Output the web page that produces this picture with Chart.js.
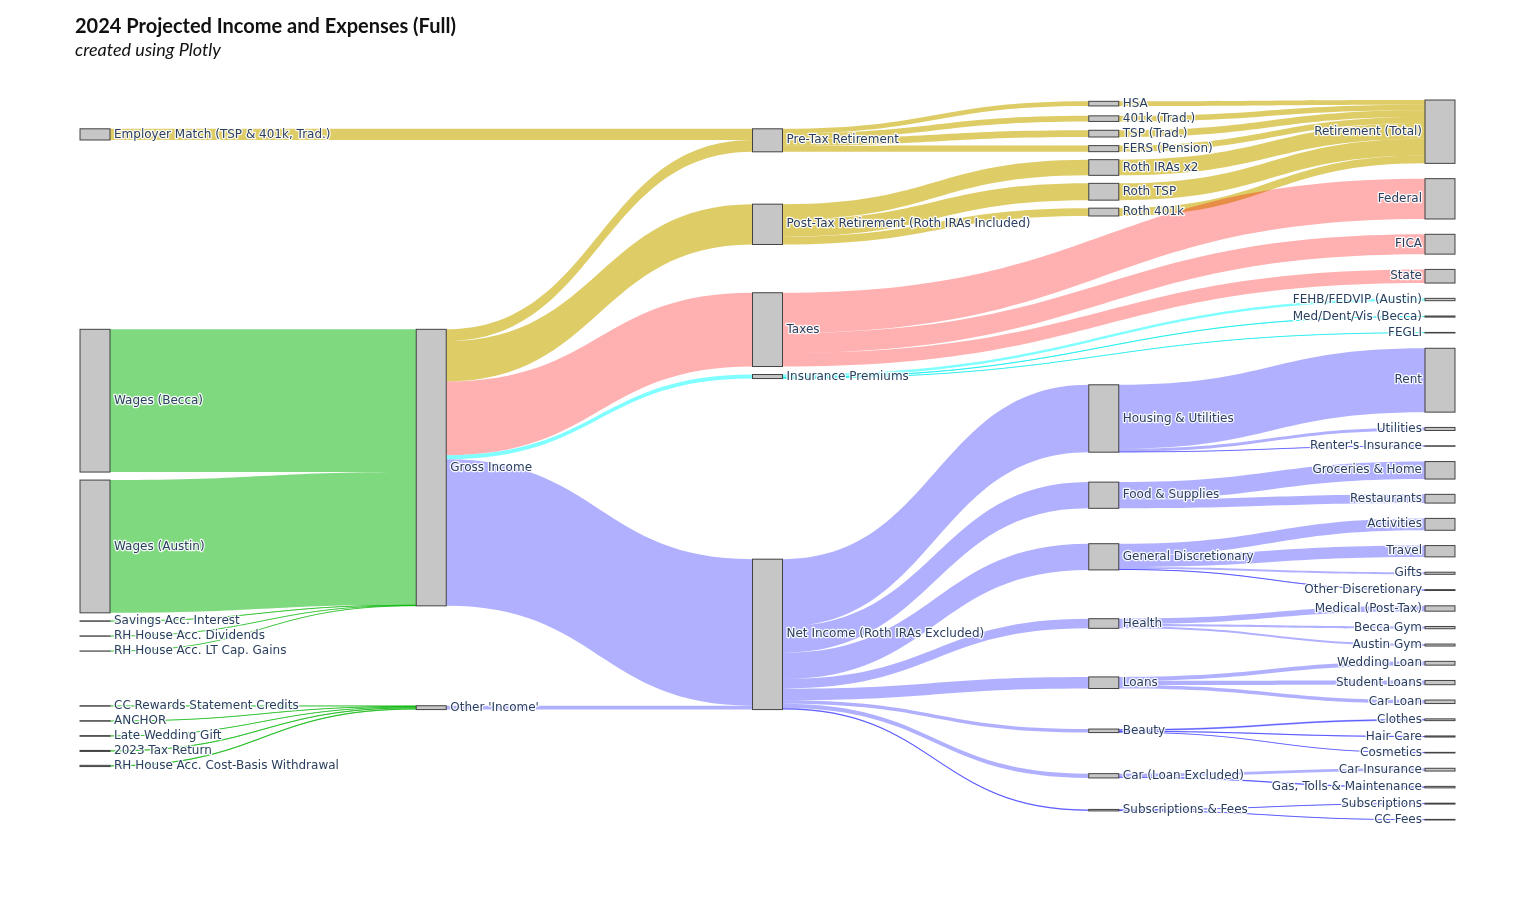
<!DOCTYPE html>
<html lang="en">
<head>
  <meta charset="UTF-8"/>
  <title>2024 Projected Income and Expenses (Full)</title>
  <script src="https://cdn.jsdelivr.net/npm/chart.js@4.4.1/dist/chart.umd.min.js"></script>
  <style>
    html, body { margin: 0; padding: 0; background: #fff; }
    #wrap { position: relative; width: 1535px; height: 900px; }
  </style>
</head>
<body>
  <div id="wrap"><canvas id="sankey"></canvas></div>

  <script>
    // nodes (order inside each column is kept)
    const nodeLabels = [
      "Employer Match (TSP & 401k, Trad.)", "Wages (Becca)", "Wages (Austin)",
      "Savings Acc. Interest", "RH House Acc. Dividends", "RH House Acc. LT Cap. Gains",
      "CC Rewards Statement Credits", "ANCHOR", "Late Wedding Gift", "2023 Tax Return",
      "RH House Acc. Cost-Basis Withdrawal",
      "Gross Income", "Other 'Income'",
      "Pre-Tax Retirement", "Post-Tax Retirement (Roth IRAs Included)", "Taxes",
      "Insurance Premiums", "Net Income (Roth IRAs Excluded)",
      "HSA", "401k (Trad.)", "TSP (Trad.)", "FERS (Pension)", "Roth IRAs x2", "Roth TSP", "Roth 401k",
      "Housing & Utilities", "Food & Supplies", "General Discretionary", "Health", "Loans",
      "Beauty", "Car (Loan Excluded)", "Subscriptions & Fees",
      "Retirement (Total)", "Federal", "FICA", "State",
      "FEHB/FEDVIP (Austin)", "Med/Dent/Vis (Becca)", "FEGLI",
      "Rent", "Utilities", "Renter's Insurance", "Groceries & Home", "Restaurants",
      "Activities", "Travel", "Gifts", "Other Discretionary",
      "Medical (Post-Tax)", "Becca Gym", "Austin Gym",
      "Wedding Loan", "Student Loans", "Car Loan",
      "Clothes", "Hair Care", "Cosmetics",
      "Car Insurance", "Gas, Tolls & Maintenance", "Subscriptions", "CC Fees"
    ];
    const nodeGroups = [
      "income", "income", "income", "income", "income", "income",
      "income", "income", "income", "income", "income",
      "income", "income",
      "retirement", "retirement", "tax", "insurance", "spending",
      "retirement", "retirement", "retirement", "retirement", "retirement", "retirement", "retirement",
      "spending", "spending", "spending", "spending", "spending", "spending", "spending", "spending",
      "retirement", "tax", "tax", "tax",
      "insurance", "insurance", "insurance",
      "spending", "spending", "spending", "spending", "spending",
      "spending", "spending", "spending", "spending",
      "spending", "spending", "spending",
      "spending", "spending", "spending",
      "spending", "spending", "spending",
      "spending", "spending", "spending", "spending"
    ];

    // flows (USD / year)
    const linkSources = [
      "Wages (Becca)", "Wages (Austin)", "Savings Acc. Interest", "RH House Acc. Dividends", "RH House Acc. LT Cap. Gains",
      "CC Rewards Statement Credits", "ANCHOR", "Late Wedding Gift", "2023 Tax Return", "RH House Acc. Cost-Basis Withdrawal",
      "Employer Match (TSP & 401k, Trad.)",
      "Gross Income", "Gross Income", "Gross Income", "Gross Income", "Gross Income",
      "Other 'Income'",
      "Pre-Tax Retirement", "Pre-Tax Retirement", "Pre-Tax Retirement", "Pre-Tax Retirement",
      "Post-Tax Retirement (Roth IRAs Included)", "Post-Tax Retirement (Roth IRAs Included)", "Post-Tax Retirement (Roth IRAs Included)",
      "HSA", "401k (Trad.)", "TSP (Trad.)", "FERS (Pension)", "Roth IRAs x2", "Roth TSP", "Roth 401k",
      "Taxes", "Taxes", "Taxes",
      "Insurance Premiums", "Insurance Premiums", "Insurance Premiums",
      "Net Income (Roth IRAs Excluded)", "Net Income (Roth IRAs Excluded)", "Net Income (Roth IRAs Excluded)",
      "Net Income (Roth IRAs Excluded)", "Net Income (Roth IRAs Excluded)", "Net Income (Roth IRAs Excluded)",
      "Net Income (Roth IRAs Excluded)", "Net Income (Roth IRAs Excluded)",
      "Housing & Utilities", "Housing & Utilities", "Housing & Utilities",
      "Food & Supplies", "Food & Supplies",
      "General Discretionary", "General Discretionary", "General Discretionary", "General Discretionary",
      "Health", "Health", "Health",
      "Loans", "Loans", "Loans",
      "Beauty", "Beauty", "Beauty",
      "Car (Loan Excluded)", "Car (Loan Excluded)",
      "Subscriptions & Fees", "Subscriptions & Fees"
    ];
    const linkTargets = [
      "Gross Income", "Gross Income", "Gross Income", "Gross Income", "Gross Income",
      "Other 'Income'", "Other 'Income'", "Other 'Income'", "Other 'Income'", "Other 'Income'",
      "Pre-Tax Retirement",
      "Pre-Tax Retirement", "Post-Tax Retirement (Roth IRAs Included)", "Taxes", "Insurance Premiums", "Net Income (Roth IRAs Excluded)",
      "Net Income (Roth IRAs Excluded)",
      "HSA", "401k (Trad.)", "TSP (Trad.)", "FERS (Pension)",
      "Roth IRAs x2", "Roth TSP", "Roth 401k",
      "Retirement (Total)", "Retirement (Total)", "Retirement (Total)", "Retirement (Total)",
      "Retirement (Total)", "Retirement (Total)", "Retirement (Total)",
      "Federal", "FICA", "State",
      "FEHB/FEDVIP (Austin)", "Med/Dent/Vis (Becca)", "FEGLI",
      "Housing & Utilities", "Food & Supplies", "General Discretionary",
      "Health", "Loans", "Beauty",
      "Car (Loan Excluded)", "Subscriptions & Fees",
      "Rent", "Utilities", "Renter's Insurance",
      "Groceries & Home", "Restaurants",
      "Activities", "Travel", "Gifts", "Other Discretionary",
      "Medical (Post-Tax)", "Becca Gym", "Austin Gym",
      "Wedding Loan", "Student Loans", "Car Loan",
      "Clothes", "Hair Care", "Cosmetics",
      "Car Insurance", "Gas, Tolls & Maintenance",
      "Subscriptions", "CC Fees"
    ];
    const linkValues = [
      127400, 118500, 400, 300, 200,
      400, 450, 600, 900, 1100,
      10000,
      10550, 36000, 65850, 3600, 130800,
      3450,
      4150, 5000, 6000, 5400,
      14000, 15000, 7000,
      4150, 5000, 6000, 5400, 14000, 15000, 7000,
      36000, 17700, 12150,
      2100, 1000, 500,
      60150, 23400, 23400,
      8600, 10350, 3150,
      3850, 1350,
      57000, 2700, 450,
      15600, 7800,
      10600, 10100, 1900, 800,
      4800, 2000, 1800,
      3400, 3800, 3150,
      1600, 1000, 550,
      2500, 1350,
      800, 550
    ];

    const titleText = "2024 Projected Income and Expenses (Full)";
    const subtitleText = "created using Plotly";

    // styles
    const linkFill = {
      income: "rgba(0,180,0,0.5)",
      retirement: "rgba(200,170,0,0.6)",
      tax: "rgba(255,0,0,0.31)",
      insurance: "rgba(0,255,255,0.5)",
      spending: "rgba(0,0,255,0.31)"
    };
    const linkThin = {
      income: "rgba(0,180,0,0.7)",
      retirement: "rgba(200,170,0,0.8)",
      tax: "rgba(255,0,0,0.5)",
      insurance: "rgba(0,230,230,0.7)",
      spending: "rgba(0,0,255,0.5)"
    };
    const PAD_PX = 15.3;     // spacing of the fullest column, sets the value scale
    const GAP_PX = 8;        // smallest gap allowed between two nodes
    const LABEL_PX = 15;     // smallest distance between two node centres (labels)
    const NODE_PX = 30;
    const PULL_SIZE = 60;    // heavy nodes resist being lifted toward their links

    // sankey layout in scale units (x and y both run 0..1)
    function layoutSankey(area) {
      const padY = PAD_PX / area.height;
      const gapY = GAP_PX / area.height;
      const labelY = LABEL_PX / area.height;
      const nodeW = NODE_PX / area.width;
      const nodes = nodeLabels.map((name, i) => ({ i, name, group: nodeGroups[i], sourceLinks: [], targetLinks: [] }));
      const byName = {};
      nodes.forEach(n => byName[n.name] = n);
      const links = linkValues.map((value, i) => {
        const l = { i, value, source: byName[linkSources[i]], target: byName[linkTargets[i]] };
        l.source.sourceLinks.push(l);
        l.target.targetLinks.push(l);
        return l;
      });
      const total = arr => arr.reduce((s, l) => s + l.value, 0);
      nodes.forEach(n => n.value = Math.max(total(n.sourceLinks), total(n.targetLinks)));

      let current = new Set(nodes), depth = 0;
      while (current.size) {
        const next = new Set();
        current.forEach(n => { n.depth = depth; n.sourceLinks.forEach(l => next.add(l.target)); });
        current = next;
        depth++;
      }
      const nCols = depth;
      const kx = (1 - nodeW) / (nCols - 1);
      const cols = Array.from({ length: nCols }, () => []);
      nodes.forEach(n => {
        n.layer = n.sourceLinks.length ? n.depth : nCols - 1;
        n.x0 = n.layer * kx;
        n.x1 = n.x0 + nodeW;
        cols[n.layer].push(n);
      });

      const py = Math.min(padY, 1 / (Math.max(...cols.map(c => c.length)) - 1));
      const ky = Math.min(...cols.map(c => (1 - (c.length - 1) * py) / c.reduce((s, n) => s + n.value, 0)));
      links.forEach(l => l.width = l.value * ky);
      const shift = (n, dy) => { n.y0 += dy; n.y1 += dy; };
      const byTarget = (a, b) => (a.target.y0 - b.target.y0) || (a.i - b.i);
      const bySource = (a, b) => (a.source.y0 - b.source.y0) || (a.i - b.i);
      const sep = (a, b) => Math.max(gapY, labelY - ((a.y1 - a.y0) + (b.y1 - b.y0)) / 2);

      // even spread of every column
      cols.forEach(col => {
        let y = 0;
        col.forEach(n => { n.y0 = y; n.y1 = y + n.value * ky; y = n.y1 + py; });
        const extra = (1 - y + py) / (col.length + 1);
        col.forEach((n, k) => shift(n, extra * (k + 1)));
      });

      function resolveCollisions(col) {
        let y = 0;
        col.forEach((n, k) => {
          const dy = y - n.y0;
          if (dy > 0) shift(n, dy);
          if (k < col.length - 1) y = n.y1 + sep(n, col[k + 1]);
        });
        const last = col[col.length - 1];
        const over = last.y1 - 1;
        if (over > 0) {
          shift(last, -over);
          for (let k = col.length - 2; k >= 0; --k) {
            const m = col[k], dy = m.y1 + sep(m, col[k + 1]) - col[k + 1].y0;
            if (dy > 0) shift(m, -dy);
          }
        }
      }

      // right to left: move nodes toward the place their links land
      for (let c = nCols - 2; c >= 0; --c) {
        cols[c].forEach(n => {
          if (!n.sourceLinks.length) return;
          n.sourceLinks.sort(byTarget);
          let acc = 0, w = 0, sOff = 0;
          n.sourceLinks.forEach(l => {
            const t = l.target;
            t.targetLinks.sort(bySource);
            let tOff = 0;
            for (const m of t.targetLinks) { if (m === l) break; tOff += m.width; }
            acc += (t.y0 + tOff - sOff) * l.value;
            w += l.value;
            sOff += l.width;
          });
          const dy = acc / w - n.y0;
          const hPx = (n.y1 - n.y0) * area.height;
          const pull = dy > 0 ? 1 : 1 / (1 + hPx / PULL_SIZE);
          shift(n, dy * pull);
        });
        resolveCollisions(cols[c]);
      }

      nodes.forEach(n => { n.sourceLinks.sort(byTarget); n.targetLinks.sort(bySource); });
      nodes.forEach(n => {
        let a = n.y0, b = n.y0;
        n.sourceLinks.forEach(l => { l.y0 = a + l.width / 2; a += l.width; });
        n.targetLinks.forEach(l => { l.y1 = b + l.width / 2; b += l.width; });
      });
      return { nodes, links, lastCol: nCols - 1 };
    }

    function labelText(ctx, text, x, y, align) {
      ctx.textAlign = align;
      ctx.lineJoin = "round";
      ctx.lineWidth = 2.5;
      ctx.strokeStyle = "rgba(255,255,255,0.9)";
      ctx.strokeText(text, x, y);
      ctx.fillStyle = "#2a3f5f";
      ctx.fillText(text, x, y);
    }

    const sankeyPlugin = {
      id: "sankey",
      afterLayout(chart) {
        chart.$sankey = layoutSankey(chart.chartArea);
      },
      beforeDatasetsDraw(chart) {
        const { ctx, scales } = chart;
        const X = v => scales.x.getPixelForValue(v);
        const Y = v => scales.y.getPixelForValue(v);
        const { nodes, links, lastCol } = chart.$sankey;
        ctx.save();

        links.forEach(l => {
          const xa = X(l.source.x1), xb = X(l.target.x0), xm = (xa + xb) / 2;
          const a0 = Y(l.y0 - l.width / 2), a1 = Y(l.y0 + l.width / 2);
          const b0 = Y(l.y1 - l.width / 2), b1 = Y(l.y1 + l.width / 2);
          ctx.beginPath();
          ctx.moveTo(xa, a0);
          ctx.bezierCurveTo(xm, a0, xm, b0, xb, b0);
          ctx.lineTo(xb, b1);
          ctx.bezierCurveTo(xm, b1, xm, a1, xa, a1);
          ctx.closePath();
          ctx.fillStyle = linkFill[l.target.group];
          ctx.fill();
          if (a1 - a0 < 2) {
            const ca = (a0 + a1) / 2, cb = (b0 + b1) / 2;
            ctx.beginPath();
            ctx.moveTo(xa, ca);
            ctx.bezierCurveTo(xm, ca, xm, cb, xb, cb);
            ctx.lineWidth = 1;
            ctx.strokeStyle = linkThin[l.target.group];
            ctx.stroke();
          }
        });

        nodes.forEach(n => {
          const x0 = X(n.x0), x1 = X(n.x1), y0 = Y(n.y0), y1 = Y(n.y1);
          ctx.fillStyle = "rgb(198,198,198)";
          ctx.fillRect(x0, y0, x1 - x0, y1 - y0);
          ctx.lineWidth = 1;
          ctx.strokeStyle = "rgba(50,50,50,0.9)";
          ctx.strokeRect(x0, y0, x1 - x0, y1 - y0);
        });

        ctx.font = '12px "DejaVu Sans"';
        ctx.textBaseline = "middle";
        nodes.forEach(n => {
          const yc = (Y(n.y0) + Y(n.y1)) / 2;
          if (n.layer === lastCol) labelText(ctx, n.name, X(n.x0) - 3, yc, "right");
          else labelText(ctx, n.name, X(n.x1) + 4, yc, "left");
        });

        ctx.fillStyle = "#111";
        ctx.textAlign = "left";
        ctx.textBaseline = "alphabetic";
        ctx.font = "bold 20px Lato";
        ctx.fillText(titleText, 75, 33);
        ctx.font = "italic 18px Lato";
        ctx.fillText(subtitleText, 75, 56);
        ctx.restore();
      }
    };

    new Chart(document.getElementById("sankey").getContext("2d"), {
      type: "scatter",
      data: { datasets: [{ data: [] }] },
      options: {
        responsive: true,
        maintainAspectRatio: false,
        animation: false,
        layout: { padding: { left: 80, right: 80, top: 100, bottom: 80 } },
        plugins: {
          legend: { display: false },
          tooltip: { enabled: false },
          title: { display: false }
        },
        scales: {
          x: { type: "linear", min: 0, max: 1, display: false },
          y: { type: "linear", min: 0, max: 1, reverse: true, display: false }
        }
      },
      plugins: [sankeyPlugin]
    });
  </script>
</body>
</html>
